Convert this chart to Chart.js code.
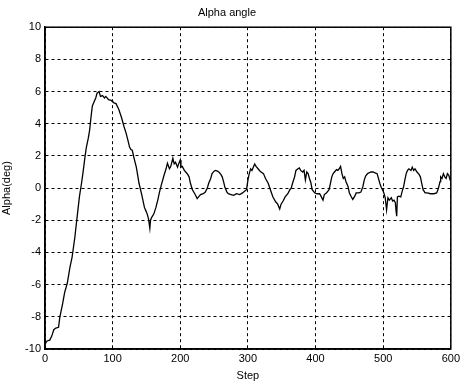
<!DOCTYPE html>
<html>
<head>
<meta charset="utf-8">
<script src="https://cdn.jsdelivr.net/npm/chart.js@4/dist/chart.umd.min.js"></script>
<style>
  html, body { margin: 0; padding: 0; background: #fff; }
  #wrap { width: 463px; height: 383px; }
</style>
</head>
<body>
<div id="wrap"><canvas id="chart"></canvas></div>
<script>
// step values (x) and alpha angle in degrees (y)
const steps = [0,3,7,10,13,16,20,22,26,29,33,37,40,44,48,51,54,56,59,61,
  64,66,68,70,72,75,77,80,82,85,88,90,94,98,102,105,109,113,117,120,
  123,125,127,129,132,135,137,139,143,147,149,151,153,155,156,158,161,164,167,169,
  172,176,179,181,184,186,189,191,193,196,198,200,201,203,206,208,211,213,215,218,
  222,225,228,230,234,237,240,242,245,247,250,252,255,257,260,262,264,266,269,271,
  275,279,283,288,292,295,298,300,302,304,306,308,310,312,315,318,323,326,330,334,
  337,341,344,347,349,352,355,359,362,364,366,369,371,374,376,378,381,383,385,387,
  389,391,393,395,397,399,402,406,408,411,413,416,418,420,422,424,426,428,431,433,
  435,437,439,441,443,445,448,450,453,455,458,460,464,467,470,472,474,477,479,482,
  485,488,491,493,495,497,499,501,503,505,507,509,512,514,516,518,519,520,521,523,
  526,528,530,532,534,536,538,541,543,545,547,550,553,555,557,559,562,565,570,575,
  579,581,582,584,585,587,589,591,593,595,597,599,600];
const alpha = [-9.7,-9.5,-9.45,-9.2,-8.8,-8.7,-8.65,-8.0,-7.2,-6.5,-5.9,-4.9,-4.3,-3.1,-1.6,-0.5,0.3,0.9,1.9,2.5,
  3.1,3.6,4.4,5.1,5.3,5.6,5.9,6.0,5.7,5.75,5.6,5.7,5.5,5.45,5.3,5.25,4.9,4.4,3.8,3.4,
  2.9,2.55,2.4,2.35,1.8,1.3,0.8,0.3,-0.4,-1.2,-1.4,-1.6,-1.9,-2.5,-2.0,-1.8,-1.6,-1.2,-0.7,-0.3,
  0.2,0.8,1.2,1.55,1.2,1.35,1.85,1.5,1.6,1.3,1.55,1.75,1.3,1.35,1.1,1.0,0.85,0.7,0.3,-0.1,
  -0.4,-0.65,-0.5,-0.4,-0.35,-0.25,0.0,0.3,0.6,0.9,1.05,1.1,1.05,1.0,0.85,0.7,0.4,0.05,-0.25,-0.35,
  -0.4,-0.45,-0.35,-0.4,-0.3,-0.2,-0.1,0.5,0.9,1.2,1.1,1.3,1.5,1.35,1.2,1.05,0.9,0.6,0.3,-0.2,
  -0.55,-0.85,-1.0,-1.3,-1.0,-0.8,-0.55,-0.35,-0.1,0.0,0.3,0.7,1.1,1.2,1.25,1.1,1.0,1.1,0.5,1.0,
  0.9,0.6,0.35,-0.1,-0.2,-0.3,-0.35,-0.35,-0.5,-0.75,-0.4,-0.3,-0.2,-0.1,0.3,0.7,0.9,1.0,1.15,1.1,
  1.2,1.35,0.9,0.6,0.7,0.4,0.1,-0.3,-0.55,-0.7,-0.5,-0.3,-0.3,-0.25,0.1,0.5,0.75,0.9,0.95,1.0,
  1.0,0.95,0.9,0.6,0.3,0.05,-0.1,-0.3,-0.6,-1.35,-0.6,-0.75,-0.6,-0.8,-0.75,-0.9,-1.4,-1.75,-0.55,-0.5,
  -0.55,-0.2,0.05,0.5,0.9,1.1,1.2,1.1,1.3,1.1,1.2,1.0,0.85,0.7,0.3,-0.1,-0.3,-0.3,-0.35,-0.35,
  -0.3,-0.1,0.05,0.4,0.7,0.6,0.9,0.7,0.6,0.9,0.8,0.5,0.6];
const xTicks = [0, 100, 200, 300, 400, 500, 600];
const yTicks = [-10, -8, -6, -4, -2, 0, 2, 4, 6, 8, 10];

const font = { family: 'Arial, "Liberation Sans", sans-serif', size: 11 };

// solid frame round the plot area, like the matlab axes box
const boxPlugin = {
  id: 'box',
  afterDraw(chart) {
    const { ctx, chartArea: a } = chart;
    ctx.save();
    ctx.strokeStyle = '#000';
    ctx.lineWidth = 1.5;
    ctx.strokeRect(a.left, a.top, a.right - a.left, a.bottom - a.top);
    ctx.restore();
  }
};

new Chart(document.getElementById('chart'), {
  type: 'line',
  data: {
    datasets: [{
      label: 'Alpha',
      data: steps.map((s, i) => ({ x: s, y: alpha[i] })),
      borderColor: '#000',
      borderWidth: 1.3,
      pointRadius: 0,
      tension: 0,
      fill: false
    }]
  },
  options: {
    responsive: true,
    maintainAspectRatio: false,
    animation: false,
    layout: { padding: { left: 0, right: 9, top: 0, bottom: 0 } },
    plugins: {
      legend: { display: false },
      tooltip: { enabled: false },
      title: {
        display: true,
        text: 'Alpha angle',
        color: '#000',
        font: { ...font, weight: 'normal' },
        padding: { top: 6, bottom: 8 }
      }
    },
    scales: {
      x: {
        type: 'linear',
        min: 0,
        max: 600,
        afterBuildTicks: s => { s.ticks = xTicks.map(v => ({ value: v })); },
        afterFit: s => { s.height = 34; },
        ticks: { color: '#000', font, padding: 3, maxRotation: 0 },
        grid: { color: '#000', lineWidth: 1, drawTicks: false },
        border: { color: '#000', width: 1.5, dash: [3, 3] },
        title: { display: true, text: 'Step', color: '#000', font, padding: { top: 1, bottom: 0 } }
      },
      y: {
        type: 'linear',
        min: -10,
        max: 10,
        afterBuildTicks: s => { s.ticks = yTicks.map(v => ({ value: v })); },
        afterFit: s => { s.width = 45; },
        ticks: { color: '#000', font, padding: 4 },
        grid: { color: '#000', lineWidth: 1, drawTicks: false },
        border: { color: '#000', width: 1.5, dash: [3, 3] },
        title: { display: true, text: 'Alpha(deg)', color: '#000', font, padding: { top: 0, bottom: 2 } }
      }
    }
  },
  plugins: [boxPlugin]
});
</script>
</body>
</html>
